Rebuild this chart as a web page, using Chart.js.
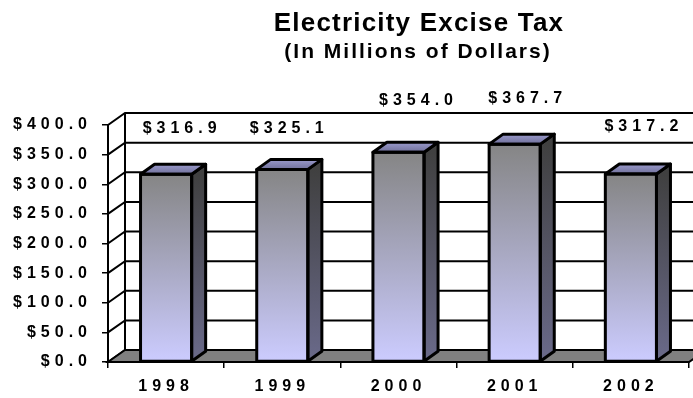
<!DOCTYPE html>
<html>
<head>
<meta charset="utf-8">
<script src="https://cdn.jsdelivr.net/npm/chart.js@4.4.0/dist/chart.umd.min.js"></script>
<style>
  html, body { margin: 0; padding: 0; background: #fff; }
  canvas { display: block; }
</style>
</head>
<body>
<canvas id="myChart" width="693" height="398"></canvas>
<script>
const years = ['1998', '1999', '2000', '2001', '2002'];
const taxValues = [316.9, 325.1, 354.0, 367.7, 317.2];
const tickValues = [0, 50, 100, 150, 200, 250, 300, 350, 400];
const titleText = 'Electricity Excise Tax';
const subtitleText = '(In Millions of Dollars)';

// the value labels sit where they were dragged by hand in the original
const labelShiftX = [16, 7, 20, 13, 13];
const labelShiftY = [46, 41, 52, 46, 47];

const FONT = 'bold 16px "Liberation Sans", Arial, sans-serif';
const WALL = { dx: 17, dy: 12 };   // depth of the back wall
const BAR = { dx: 14, dy: 10 };    // depth of each bar

const money = v => '$' + Number(v).toFixed(1);

// letter spacing for the axis text (reset every time the canvas is resized)
const spacing = {
  id: 'spacing',
  beforeLayout(chart) { chart.ctx.letterSpacing = '5px'; },
  beforeDraw(chart) { chart.ctx.letterSpacing = '5px'; }
};

// back wall, side wall lines and the grey floor
const walls = {
  id: 'walls',
  beforeDatasetsDraw(chart) {
    const { ctx, chartArea: a, scales: { y } } = chart;
    ctx.save();
    ctx.strokeStyle = '#000';
    ctx.lineWidth = 2;
    tickValues.forEach(v => {
      const py = y.getPixelForValue(v);
      ctx.beginPath();
      ctx.moveTo(a.left, py);
      ctx.lineTo(a.left + WALL.dx, py - WALL.dy);
      if (v > 0) ctx.lineTo(chart.width, py - WALL.dy);
      ctx.stroke();
    });
    ctx.beginPath();
    ctx.moveTo(a.left + WALL.dx, y.getPixelForValue(tickValues[tickValues.length - 1]) - WALL.dy);
    ctx.lineTo(a.left + WALL.dx, a.bottom - WALL.dy);
    ctx.stroke();

    // floor
    ctx.beginPath();
    ctx.moveTo(a.left, a.bottom);
    ctx.lineTo(a.left + WALL.dx, a.bottom - WALL.dy);
    ctx.lineTo(a.right + WALL.dx, a.bottom - WALL.dy);
    ctx.lineTo(a.right, a.bottom);
    ctx.closePath();
    ctx.fillStyle = '#808080';
    ctx.fill();
    ctx.stroke();
    ctx.restore();
  }
};

// side + top faces of the bars, then the value labels
const bars3d = {
  id: 'bars3d',
  afterDatasetsDraw(chart) {
    const ctx = chart.ctx;
    const meta = chart.getDatasetMeta(0);
    ctx.save();
    ctx.lineWidth = 3;
    ctx.lineJoin = 'round';
    ctx.strokeStyle = '#000';
    meta.data.forEach((bar, i) => {
      const p = bar.getProps(['x', 'y', 'base', 'width'], true);
      const l = p.x - p.width / 2, r = p.x + p.width / 2;
      const top = p.y, base = p.base;

      // side face
      let g = ctx.createLinearGradient(0, top, 0, base);
      g.addColorStop(0, '#404040');
      g.addColorStop(1, '#6a6a8a');
      ctx.beginPath();
      ctx.moveTo(r, top);
      ctx.lineTo(r + BAR.dx, top - BAR.dy);
      ctx.lineTo(r + BAR.dx, base - BAR.dy);
      ctx.lineTo(r, base);
      ctx.closePath();
      ctx.fillStyle = g;
      ctx.fill();
      ctx.stroke();

      // top face
      g = ctx.createLinearGradient(0, top - BAR.dy, 0, top);
      g.addColorStop(0, '#9a9acc');
      g.addColorStop(1, '#70709a');
      ctx.beginPath();
      ctx.moveTo(l, top);
      ctx.lineTo(l + BAR.dx, top - BAR.dy);
      ctx.lineTo(r + BAR.dx, top - BAR.dy);
      ctx.lineTo(r, top);
      ctx.closePath();
      ctx.fillStyle = g;
      ctx.fill();
      ctx.stroke();

      // front outline again so it sits on top
      ctx.strokeRect(l, top, p.width, base - top);

      // value label
      ctx.font = FONT;
      ctx.fillStyle = '#000';
      ctx.textAlign = 'center';
      ctx.textBaseline = 'middle';
      ctx.fillText(money(taxValues[i]), p.x + labelShiftX[i], top - labelShiftY[i]);
    });
    ctx.restore();
  }
};

// two line title
const titles = {
  id: 'titles',
  afterDraw(chart) {
    const ctx = chart.ctx;
    ctx.save();
    ctx.fillStyle = '#000';
    ctx.textAlign = 'center';
    ctx.textBaseline = 'alphabetic';
    ctx.letterSpacing = '1.2px';
    ctx.font = 'bold 26px "Liberation Sans", Arial, sans-serif';
    ctx.fillText(titleText, 419, 31);
    ctx.letterSpacing = '2px';
    ctx.font = 'bold 21px "Liberation Sans", Arial, sans-serif';
    ctx.fillText(subtitleText, 418, 58);
    ctx.restore();
  }
};

const ctx = document.getElementById('myChart').getContext('2d');
const myChart = new Chart(ctx, {
  type: 'bar',
  data: {
    labels: years,
    datasets: [{
      data: taxValues,
      backgroundColor: (c) => {
        const chart = c.chart;
        if (!chart.chartArea || c.type !== 'data') return '#a8a8c8';
        const y = chart.scales.y;
        const g = chart.ctx.createLinearGradient(0, y.getPixelForValue(c.raw), 0, y.getPixelForValue(0));
        g.addColorStop(0, '#858585');
        g.addColorStop(1, '#ccccff');
        return g;
      },
      borderColor: '#000',
      borderWidth: 0,
      borderSkipped: false,
      barPercentage: 0.44,
      categoryPercentage: 1
    }]
  },
  options: {
    responsive: false,
    animation: false,
    devicePixelRatio: 1,
    layout: { padding: { top: 125, right: 4, left: 0, bottom: 0 } },
    plugins: {
      legend: { display: false },
      tooltip: { enabled: false },
      title: { display: false }
    },
    scales: {
      x: {
        afterFit: s => { s.height = 36; },
        grid: { offset: true, drawOnChartArea: false, drawTicks: true, tickLength: 6, color: '#000', lineWidth: 1.5 },
        border: { display: true, color: '#000', width: 2 },
        ticks: { color: '#000', font: { family: '"Liberation Sans", Arial, sans-serif', size: 16, weight: 'bold' }, padding: 9, maxRotation: 0, autoSkip: false }
      },
      y: {
        min: 0,
        max: 400,
        afterFit: s => { s.width = 108; },
        grid: { drawOnChartArea: false, drawTicks: true, tickLength: 6, color: '#000', lineWidth: 1.5 },
        border: { display: true, color: '#000', width: 2 },
        ticks: {
          stepSize: 50,
          color: '#000',
          font: { family: '"Liberation Sans", Arial, sans-serif', size: 16, weight: 'bold' },
          padding: 10,
          callback: v => money(v)
        }
      }
    }
  },
  plugins: [spacing, walls, bars3d, titles]
});
</script>
</body>
</html>
